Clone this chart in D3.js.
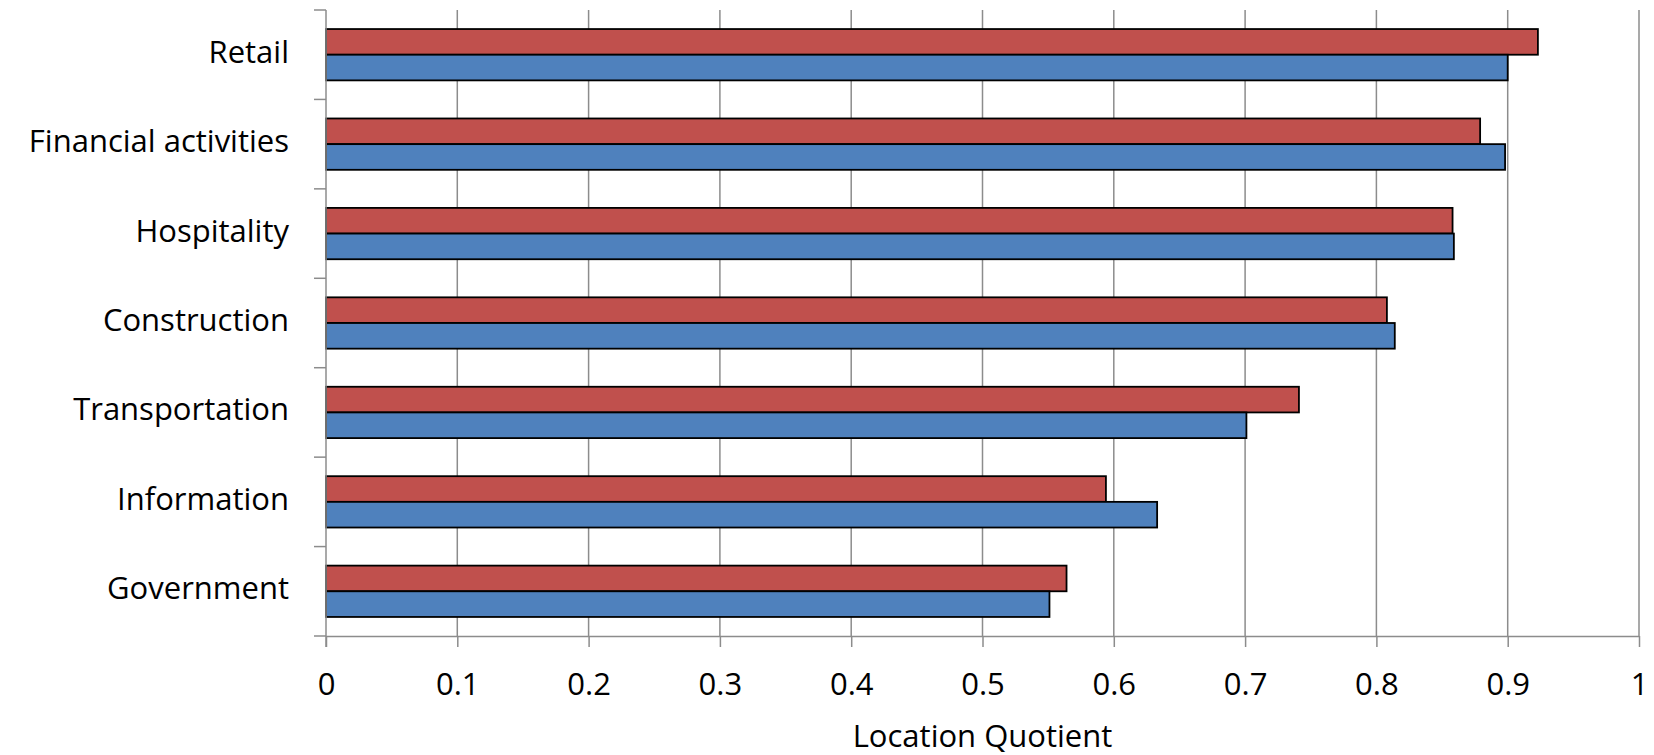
<!DOCTYPE html>
<html>
<head>
<meta charset="utf-8">
<script src="https://cdn.jsdelivr.net/npm/d3@7"></script>
<style>
  html, body { margin: 0; padding: 0; background: #fff; }
  svg { display: block; }
  text { font-family: "Open Sans", Lato, sans-serif; fill: #000; }
</style>
</head>
<body>
<svg id="chart" width="1654" height="755"></svg>
<script>
const categories = ["Retail", "Financial activities", "Hospitality", "Construction", "Transportation", "Information", "Government"];
const seriesRed  = [0.923, 0.879, 0.858, 0.808, 0.741, 0.594, 0.564];
const seriesBlue = [0.900, 0.898, 0.859, 0.814, 0.701, 0.633, 0.551];
const xTicks = [0, 0.1, 0.2, 0.3, 0.4, 0.5, 0.6, 0.7, 0.8, 0.9, 1];
const xTitle = "Location Quotient";

(function () {
const svg = d3.select("#chart");
const mLeft = 326, mRight = 1639, mTop = 10, mBottom = 636;
const fs = "31px";
const ff = "'Open Sans', Lato, sans-serif";

const x = d3.scaleLinear().domain([0, 1]).range([mLeft, mRight]);
const y = d3.scaleBand().domain(categories).range([mTop, mBottom]).paddingInner(0.426).paddingOuter(0.213);
const sub = d3.scaleBand().domain(["red", "blue"]).range([0, y.bandwidth()]);
const yBound = d3.scaleLinear().domain([0, categories.length]).range([mTop, mBottom]);

// gridlines
svg.append("g").selectAll("line").data(xTicks.slice(1)).join("line")
  .attr("x1", d => x(d)).attr("x2", d => x(d))
  .attr("y1", mTop).attr("y2", mBottom)
  .attr("stroke", "#8c8c8c").attr("stroke-width", 1.5);

// bars
const rows = categories.map((c, i) => ({c, red: seriesRed[i], blue: seriesBlue[i]}));
const g = svg.append("g");
rows.forEach(r => {
  g.append("rect").attr("x", x(0)).attr("y", y(r.c) + sub("red"))
    .attr("width", x(r.red) - x(0)).attr("height", sub.bandwidth())
    .attr("fill", "#C0504D").attr("stroke", "#000").attr("stroke-width", 1.8);
  g.append("rect").attr("x", x(0)).attr("y", y(r.c) + sub("blue"))
    .attr("width", x(r.blue) - x(0)).attr("height", sub.bandwidth())
    .attr("fill", "#4F81BD").attr("stroke", "#000").attr("stroke-width", 1.8);
});

// x axis
const xAxis = d3.axisBottom(x).tickValues(xTicks).tickSize(11)
  .tickFormat(d => String(+d.toFixed(1)));
const gx = svg.append("g").attr("transform", `translate(0,${mBottom})`).call(xAxis);
gx.select(".domain").attr("stroke", "#8c8c8c").attr("stroke-width", 1.5).attr("d", `M${mLeft},0.5H${mRight}`);
gx.selectAll(".tick line").attr("stroke", "#8c8c8c").attr("stroke-width", 1.5);
gx.selectAll(".tick text").attr("y", 59).attr("dy", null)
  .style("font-size", fs).style("font-family", ff).attr("fill", "#000");

// y axis
const gy = svg.append("g");
gy.append("line").attr("x1", mLeft).attr("x2", mLeft).attr("y1", mTop).attr("y2", mBottom + 11)
  .attr("stroke", "#8c8c8c").attr("stroke-width", 1.5);
gy.selectAll("line.tk").data(d3.range(categories.length + 1)).join("line").attr("class", "tk")
  .attr("x1", mLeft - 12).attr("x2", mLeft).attr("y1", d => yBound(d)).attr("y2", d => yBound(d))
  .attr("stroke", "#8c8c8c").attr("stroke-width", 1.5);
gy.selectAll("text").data(categories).join("text")
  .attr("x", 289).attr("y", d => y(d) + y.bandwidth() / 2 + 8)
  .attr("text-anchor", "end")
  .style("font-size", fs).text(d => d);

// x title
svg.append("text").attr("x", (mLeft + mRight) / 2).attr("y", 746.5)
  .attr("text-anchor", "middle").style("font-size", fs).text(xTitle);
})();
</script>
</body>
</html>
